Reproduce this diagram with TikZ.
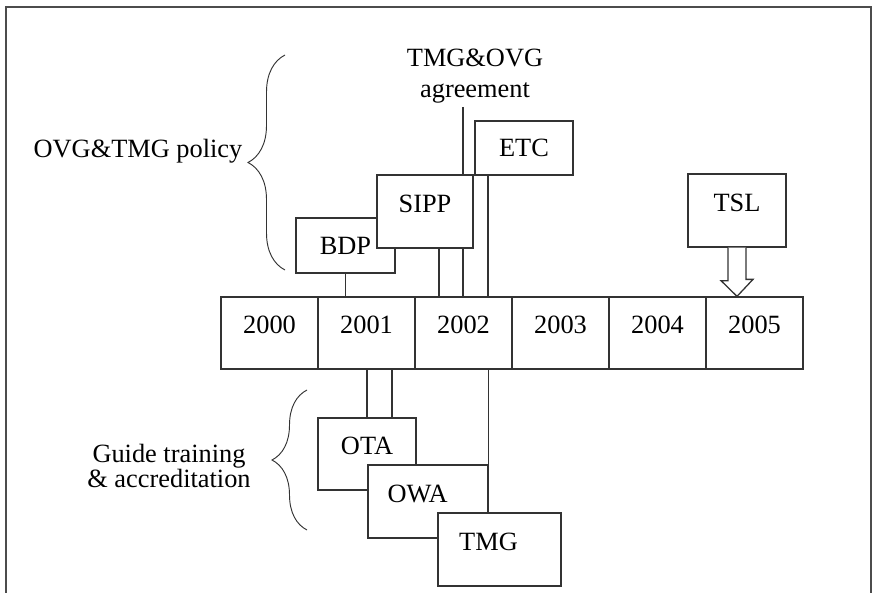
\documentclass[tikz,border=0pt]{standalone}
\usepackage{fontspec}
\setmainfont{Liberation Serif}
\usetikzlibrary{calc}
\usetikzlibrary{decorations.pathreplacing}

\tikzset{
	every node/.style={font=\fontsize{22.5}{26}\selectfont},
	line/.style={line width=1.1pt, draw=black!80},
	yearbox/.style={line, minimum width=2.91cm, minimum height=2.16cm, text depth=0.48cm, inner sep=0pt},
	box/.style={line, fill=white, text depth=0.48cm, inner sep=0pt},
	curly/.style={decorate, decoration={brace, amplitude=#1}, line width=0.8pt, draw=black!80},
}

\begin{document}
\begin{tikzpicture}[x=0.03cm, y=-0.03cm]
		\useasboundingbox (0,0) rectangle (873,593);
		\draw [line width=1.2pt, black!70] (6,593) -- (6,7) -- (871,7) -- (871,593);
		% years
		\foreach \yr [count=\i from 0] in {2000,...,2005}
			\node[yearbox] (y\yr) at (269.5+97*\i,333) {\yr};
		% policy
		\node[box, minimum width=2.97cm, minimum height=1.65cm, text depth=0pt] (bdp) at (345.5,245.5) {BDP};
		\node[box, minimum width=2.88cm, minimum height=2.19cm] (sipp) at (425,211.5) {SIPP};
		\node[box, minimum width=2.94cm, minimum height=1.62cm, text depth=0pt] (etc) at (524,148) {ETC};
		\node[align=center] (agree) at (475,76) {TMG\&OVG\\agreement};
		\node[box, minimum width=2.94cm, minimum height=2.19cm] (tsl) at (737,210.5) {TSL};
		% training
		\node[box, minimum width=2.94cm, minimum height=2.16cm] (ota) at (367,454) {OTA};
		\node[box, minimum width=3.6cm, minimum height=2.19cm] (owa) at (428,501.5) {OWA\kern0.62cm};
		\node[box, minimum width=3.69cm, minimum height=2.19cm] (tmg) at (499.5,549.5) {TMG\kern0.66cm};
		% links to the time line
		\coordinate (s1) at ($(sipp.south)+(14,0)$);
		\coordinate (a1) at ($(agree.south)+(-12,0)$);
		\coordinate (e1) at ($(etc.south)+(-36,0)$);
		\coordinate (o1) at ($(ota.north)+(25,0)$);
		\draw [line] (bdp.south) -- (bdp.south |- y2001.north);
		\draw [line] (s1) -- (s1 |- y2002.north);
		\draw [line] (a1) -- (a1 |- sipp.north) (a1 |- sipp.south) -- (a1 |- y2002.north);
		\draw [line] (e1) -- (e1 |- y2002.north);
		\draw [line] (ota.north) -- (ota.north |- y2001.south) (o1) -- (o1 |- y2001.south);
		\draw [line] (owa.east |- tmg.north) -- (owa.east |- y2002.south);
		\draw [line, fill=white] ($(tsl.south)+(-9,0)$) -- ++(0,33) -- ++(-7,0) -- (tsl.south |- y2005.north) -- ++(16,-17) -- ++(-7,0) -- ($(tsl.south)+(9,0)$);
		% braces
		\draw [curly=1.11cm] (285,270) -- (285,55);
		\node (policy) at (138,151) {OVG\&TMG policy};
		\draw [curly=1.05cm] (307,530) -- (307,390);
		\node[align=center, font=\fontsize{22.5}{22}\selectfont] (guide) at (169,466) {Guide training\\\& accreditation};
\end{tikzpicture}
\end{document}
